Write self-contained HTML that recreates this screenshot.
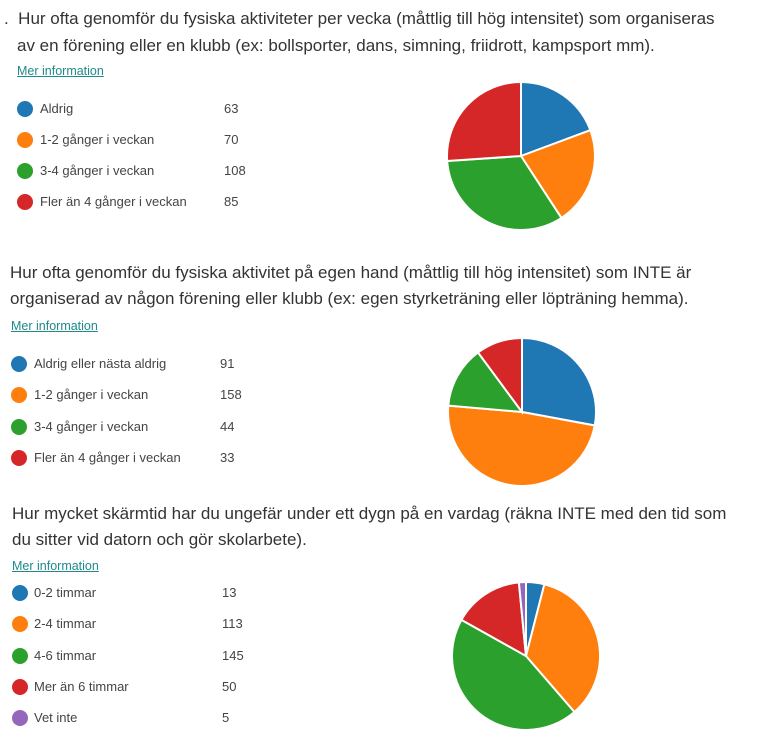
<!DOCTYPE html>
<html><head><meta charset="utf-8"><style>
body{margin:0;width:760px;height:737px;background:#fff;font-family:"Liberation Sans",sans-serif;position:relative;overflow:hidden}
.t{position:absolute;font-size:17px;color:#333;white-space:nowrap}
.m{position:absolute;font-size:12.5px;color:#1f8a8a;text-decoration:underline}
.r{position:absolute;font-size:13px;color:#444;height:16px;line-height:16px}
.d{position:absolute;width:16px;height:16px;border-radius:50%}
svg{position:absolute;left:0;top:0}
</style></head><body>
<div class="t" style="left:4px;top:9px">.&nbsp; Hur ofta genomför du fysiska aktiviteter per vecka (måttlig till hög intensitet) som organiseras</div>
<div class="t" style="left:17px;top:36px">av en förening eller en klubb (ex: bollsporter, dans, simning, friidrott, kampsport mm).</div>
<div class="m" style="left:17px;top:64px">Mer information</div>
<div class="t" style="left:10px;top:263px">Hur ofta genomför du fysiska aktivitet på egen hand (måttlig till hög intensitet) som INTE är</div>
<div class="t" style="left:10px;top:289px">organiserad av någon förening eller klubb (ex: egen styrketräning eller löpträning hemma).</div>
<div class="m" style="left:11px;top:319px">Mer information</div>
<div class="t" style="left:12px;top:504px">Hur mycket skärmtid har du ungefär under ett dygn på en vardag (räkna INTE med den tid som</div>
<div class="t" style="left:12px;top:530px">du sitter vid datorn och gör skolarbete).</div>
<div class="m" style="left:12px;top:559px">Mer information</div>
<div id="L"></div>
<svg id="S" width="760" height="737"></svg>
<script>
var C=["#1f77b4","#ff7f0e","#2ca02c","#d62728","#9467bd"];
var sec=[
 {dx:17,lx:40,vx:224,ys:[109,140,171,202],cx:521,cy:156,r:74,
  d:[["Aldrig",63],["1-2 gånger i veckan",70],["3-4 gånger i veckan",108],["Fler än 4 gånger i veckan",85]]},
 {dx:11,lx:34,vx:220,ys:[364,395,427,458],cx:522,cy:412,r:74,
  d:[["Aldrig eller nästa aldrig",91],["1-2 gånger i veckan",158],["3-4 gånger i veckan",44],["Fler än 4 gånger i veckan",33]]},
 {dx:12,lx:34,vx:222,ys:[593,624,656,687,718],cx:526,cy:656,r:74,
  d:[["0-2 timmar",13],["2-4 timmar",113],["4-6 timmar",145],["Mer än 6 timmar",50],["Vet inte",5]]}];
var h="",s="";
sec.forEach(function(q){
 var tot=0;q.d.forEach(function(e){tot+=e[1]});
 var a=0;
 q.d.forEach(function(e,i){
  var y=q.ys[i]-8;
  h+='<div class="d" style="left:'+q.dx+'px;top:'+y+'px;background:'+C[i]+'"></div>';
  h+='<div class="r" style="left:'+q.lx+'px;top:'+y+'px">'+e[0]+'</div>';
  h+='<div class="r" style="left:'+q.vx+'px;top:'+y+'px">'+e[1]+'</div>';
  var b=a+e[1]/tot*2*Math.PI;
  var x1=q.cx+q.r*Math.sin(a),y1=q.cy-q.r*Math.cos(a),x2=q.cx+q.r*Math.sin(b),y2=q.cy-q.r*Math.cos(b);
  s+='<path d="M'+q.cx+','+q.cy+'L'+x1+','+y1+'A'+q.r+','+q.r+' 0 '+((b-a)>Math.PI?1:0)+' 1 '+x2+','+y2+'Z" fill="'+C[i]+'" stroke="#fff" stroke-width="2"/>';
  a=b;
 });
});
document.getElementById("L").innerHTML=h;
document.getElementById("S").innerHTML=s;
</script>
</body></html>
